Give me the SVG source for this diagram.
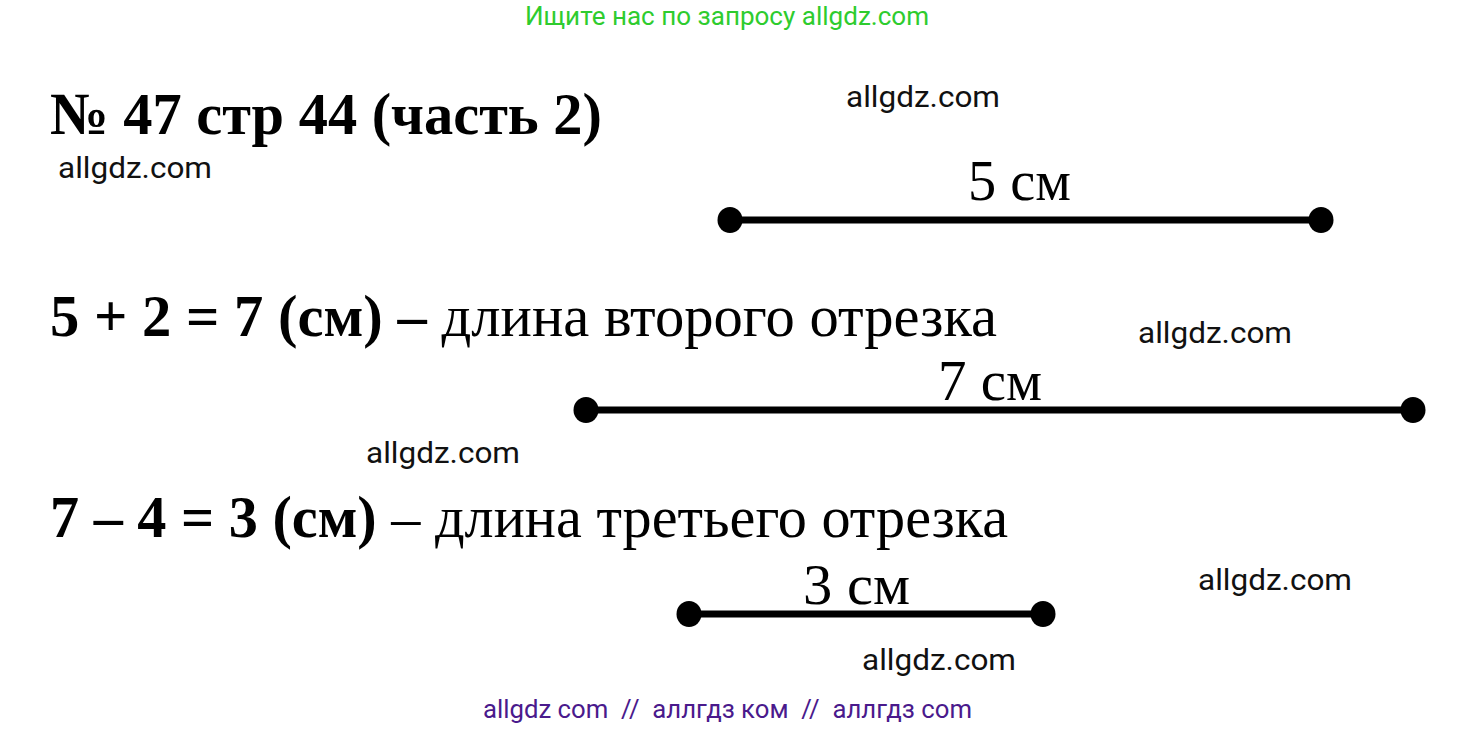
<svg xmlns="http://www.w3.org/2000/svg" width="1457" height="730" viewBox="0 0 1457 730">
<style>
.wm{font-family:Roboto,"Liberation Sans",sans-serif;font-size:29px;fill:#111}
.tm{font-family:"Liberation Serif","Times New Roman",serif;font-size:60px;fill:#000}
.lb{font-size:57px}
.b{font-weight:bold}
.seg{stroke:#000;stroke-width:7}
.dot{fill:#000}
</style>
<rect width="1457" height="730" fill="#fff"/>
<g id="header">
<text x="525" y="25" textLength="404" lengthAdjust="spacingAndGlyphs" style="font-family:Roboto,'Liberation Sans',sans-serif;font-size:25px;fill:#2ecc2e">Ищите нас по запросу allgdz.com</text>
</g>
<g id="title">
<text class="tm b" x="50" y="134" textLength="552" lengthAdjust="spacingAndGlyphs">№ 47 стр 44 (часть 2)</text>
</g>
<g id="watermarks">
<text class="wm" x="58" y="178" textLength="154" lengthAdjust="spacingAndGlyphs">allgdz.com</text>
<text class="wm" x="846" y="107" textLength="154" lengthAdjust="spacingAndGlyphs">allgdz.com</text>
<text class="wm" x="1138" y="343" textLength="154" lengthAdjust="spacingAndGlyphs">allgdz.com</text>
<text class="wm" x="366" y="463" textLength="154" lengthAdjust="spacingAndGlyphs">allgdz.com</text>
<text class="wm" x="1198" y="590" textLength="154" lengthAdjust="spacingAndGlyphs">allgdz.com</text>
<text class="wm" x="862" y="670" textLength="154" lengthAdjust="spacingAndGlyphs">allgdz.com</text>
</g>
<g id="eq1">
<text class="tm" x="50" y="336" textLength="947" lengthAdjust="spacingAndGlyphs"><tspan class="b">5 + 2 = 7 (см) –</tspan> длина второго отрезка</text>
</g>
<g id="eq2">
<text class="tm" x="50" y="537" textLength="958" lengthAdjust="spacingAndGlyphs"><tspan class="b">7 – 4 = 3 (см)</tspan> – длина третьего отрезка</text>
</g>
<g id="connectors">
<line class="seg" x1="730" y1="220" x2="1321" y2="220"/>
<line class="seg" x1="586" y1="410" x2="1413" y2="410"/>
<line class="seg" x1="689" y1="614" x2="1043" y2="614"/>
</g>
<g id="segment1">
<ellipse class="dot" cx="730" cy="220" rx="12.5" ry="13"/>
<ellipse class="dot" cx="1321" cy="220" rx="12.5" ry="13"/>
<text class="tm lb" x="968" y="200" textLength="103" lengthAdjust="spacingAndGlyphs">5 см</text>
</g>
<g id="segment2">
<ellipse class="dot" cx="586" cy="410" rx="12.5" ry="13"/>
<ellipse class="dot" cx="1413" cy="410" rx="12.5" ry="13"/>
<text class="tm lb" x="938" y="400" textLength="104" lengthAdjust="spacingAndGlyphs">7 см</text>
</g>
<g id="segment3">
<ellipse class="dot" cx="689" cy="614" rx="12.5" ry="13"/>
<ellipse class="dot" cx="1043" cy="614" rx="12.5" ry="13"/>
<text class="tm lb" x="803" y="604" textLength="107" lengthAdjust="spacingAndGlyphs">3 см</text>
</g>
<g id="footer">
<text x="483" y="718" textLength="489" lengthAdjust="spacingAndGlyphs" xml:space="preserve" style="font-family:Roboto,'Liberation Sans',sans-serif;font-size:25px;fill:#4a1a8c">allgdz com  //  аллгдз ком  //  аллгдз com</text>
</g>
</svg>
